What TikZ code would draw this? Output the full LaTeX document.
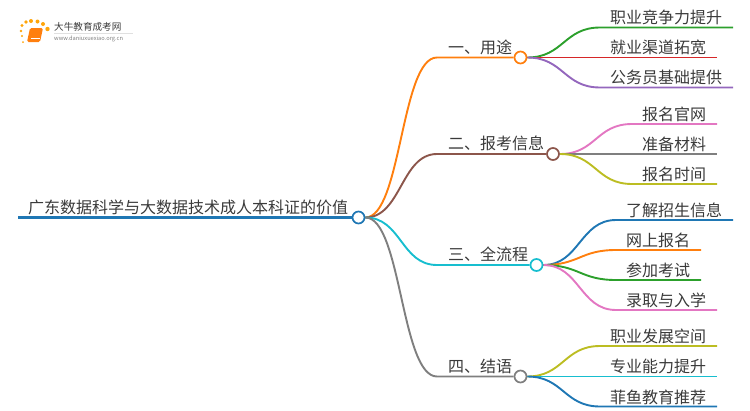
\documentclass[tikz,border=0pt]{standalone}
\usepackage{fontspec}
\setmainfont{Noto Sans CJK SC}
\usepackage{tikz}
\usetikzlibrary{backgrounds}
\definecolor{torange}{HTML}{FF7F0E}
\definecolor{tbrown}{HTML}{8C564B}
\definecolor{tcyan}{HTML}{17BECF}
\definecolor{tgray}{HTML}{7F7F7F}
\definecolor{tgreen}{HTML}{2CA02C}
\definecolor{tred}{HTML}{D62728}
\definecolor{tpurple}{HTML}{9467BD}
\definecolor{tpink}{HTML}{E377C2}
\definecolor{tolive}{HTML}{BCBD22}
\definecolor{tblue}{HTML}{1F77B4}
\definecolor{ink}{HTML}{3A3A3A}
\tikzset{
  topic/.style={anchor=west, inner sep=0pt, text=ink, font=\fontsize{16}{16}\selectfont},
  dot/.style={draw=#1, circle, fill=white, line width=1.7pt, minimum size=12pt, inner sep=0pt},
  wire/.style={line width=1.9pt},
  sweep/.style={to path={.. controls +(36,0) and +(-36,0) .. (\tikztotarget)}}
}
\begin{document}
\begin{tikzpicture}[x=1pt, y=-1pt]
\useasboundingbox (0,0) rectangle (750,410);
% logo
\fill[torange!70!yellow] (23,42) circle (1) (22,36) circle (1.2) (21,31) circle (1.4) (22,25.5) circle (1.6) (26,22) circle (1.8)
  (31,21) circle (2) (37.5,21.5) circle (2) (43,24) circle (2) (47.5,29) circle (2.2);
\fill[torange, rounded corners=1.5pt] (30,28) -- (43,28) -- (40,42) -- (27,42) -- cycle;
\draw[white, line width=.6pt] (31,38.5) -- (40,38.5);
\draw[black!12, line width=.5pt] (54,33) -- (133,33);
\draw
  node at (54,27)[anchor=west, inner sep=0pt, text=ink, font=\fontsize{9.6}{10}\selectfont](logoname){大牛教育成考网}
  node at (54,38.5)[anchor=west, inner sep=0pt, text=tgray, font=\fontsize{5.7}{6}\selectfont](logourl){www.daniuxuexiao.org.cn};
% root and first level
\draw
  node at (28,207)[topic](root){广东数据科学与大数据技术成人本科证的价值}
  node at (358.5,217.5)[dot=tblue](rootdot){}
  node at (448,47)[topic](use){一、用途}
  node at (520.5,57.5)[dot=torange](usedot){}
  node at (448,143)[topic](apply){二、报考信息}
  node at (553,154)[dot=tbrown](applydot){}
  node at (448,254)[topic](flow){三、全流程}
  node at (536.5,265)[dot=tcyan](flowdot){}
  node at (448,366)[topic](sum){四、结语}
  node at (520.5,376.5)[dot=tgray](sumdot){};
% leaves
\draw
  node at (610,17)[topic](career){职业竞争力提升}
  node at (610,47)[topic](channel){就业渠道拓宽}
  node at (610,77)[topic](civil){公务员基础提供}
  node at (642,114)[topic](site){报名官网}
  node at (642,144)[topic](docs){准备材料}
  node at (642,174)[topic](time){报名时间}
  node at (626,210)[topic](info){了解招生信息}
  node at (626,240)[topic](online){网上报名}
  node at (626,270)[topic](exam){参加考试}
  node at (626,300)[topic](admit){录取与入学}
  node at (610,336)[topic](room){职业发展空间}
  node at (610,366)[topic](skill){专业能力提升}
  node at (610,397)[topic](feiyu){菲鱼教育推荐};
\coordinate (rootstart) at (18,217.5);
\coordinate (usebend) at (437,57.5);
\coordinate (applybend) at (437,154);
\coordinate (flowbend) at (437,265);
\coordinate (sumbend) at (437,376.5);
\coordinate (careera) at (600,27.5);
\coordinate (careerb) at (733,27.5);
\coordinate (channelb) at (717,57.5);
\coordinate (civila) at (600,87.5);
\coordinate (civilb) at (733,87.5);
\coordinate (sitea) at (632,124);
\coordinate (siteb) at (717,124);
\coordinate (docsb) at (717,154);
\coordinate (timea) at (632,184);
\coordinate (timeb) at (717,184);
\coordinate (infoa) at (616,220);
\coordinate (infob) at (733,220);
\coordinate (onlinea) at (616,250);
\coordinate (onlineb) at (701,250);
\coordinate (exama) at (616,280);
\coordinate (examb) at (701,280);
\coordinate (admita) at (616,310);
\coordinate (admitb) at (717,310);
\coordinate (rooma) at (600,346);
\coordinate (roomb) at (717,346);
\coordinate (skillb) at (717,376.5);
\coordinate (feiyua) at (600,406.5);
\coordinate (feiyub) at (717,406.5);
% connectors
\begin{scope}[on background layer]
\draw[wire, line width=2.8pt, tblue] (rootstart) -- (rootdot);
\draw[wire, torange] (rootdot.east) to[sweep] (usebend) -- (usedot);
\draw[wire, tbrown] (rootdot.east) to[sweep] (applybend) -- (applydot);
\draw[wire, tcyan] (rootdot.east) to[sweep] (flowbend) -- (flowdot);
\draw[wire, tgray] (rootdot.east) to[sweep] (sumbend) -- (sumdot);
\draw[wire, tgreen] (usedot.east) to[sweep] (careera) -- (careerb);
\draw[wire, tred] (usedot.east) -- (channelb);
\draw[wire, tpurple] (usedot.east) to[sweep] (civila) -- (civilb);
\draw[wire, tpink] (applydot.east) to[sweep] (sitea) -- (siteb);
\draw[wire, tgray] (applydot.east) -- (docsb);
\draw[wire, tolive] (applydot.east) to[sweep] (timea) -- (timeb);
\draw[wire, tblue] (flowdot.east) to[sweep] (infoa) -- (infob);
\draw[wire, torange] (flowdot.east) to[sweep] (onlinea) -- (onlineb);
\draw[wire, tgreen] (flowdot.east) to[sweep] (exama) -- (examb);
\draw[wire, tpink] (flowdot.east) to[sweep] (admita) -- (admitb);
\draw[wire, tolive] (sumdot.east) to[sweep] (rooma) -- (roomb);
\draw[wire, tcyan] (sumdot.east) -- (skillb);
\draw[wire, tblue] (sumdot.east) to[sweep] (feiyua) -- (feiyub);
\end{scope}
\end{tikzpicture}
\end{document}
